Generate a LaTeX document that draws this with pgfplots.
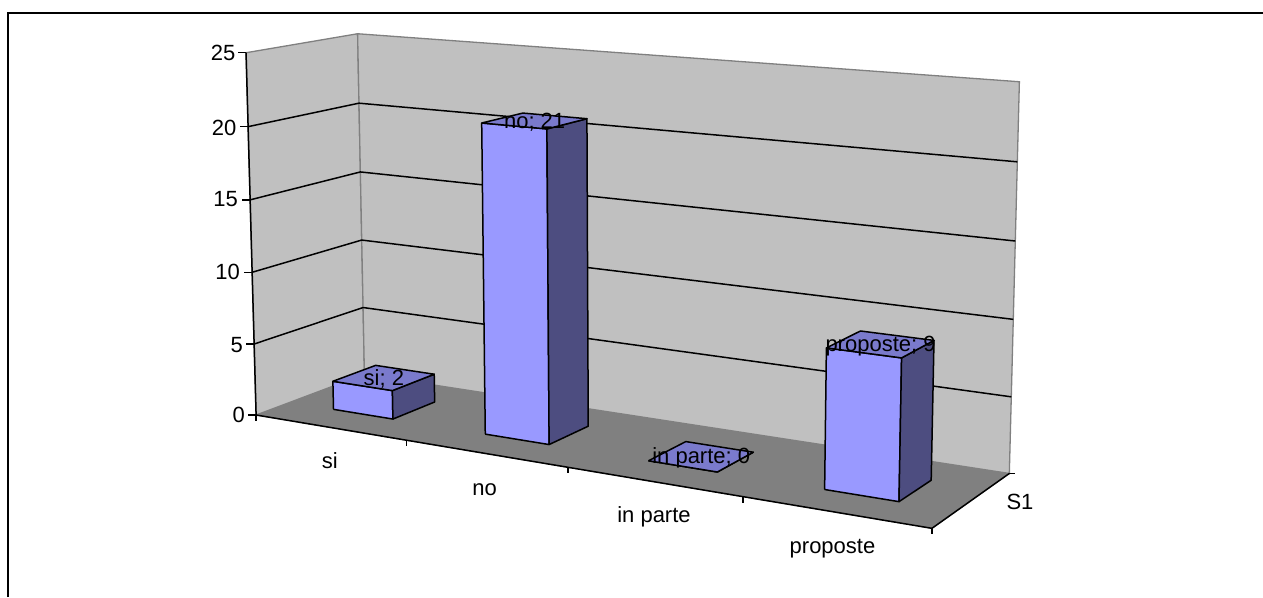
\documentclass[border=0pt]{standalone}
\usepackage{pgfplots}
\pgfplotsset{compat=1.18}
\usepackage{fontspec}
\setmainfont{Liberation Sans}
\definecolor{wall}{HTML}{C0C0C0}
\definecolor{floorgray}{HTML}{808080}
\definecolor{barfront}{HTML}{9999FF}
\definecolor{barside}{HTML}{4D4D80}
\definecolor{bartop}{HTML}{7A7ACC}
\tikzset{lab/.style={inner sep=0pt,font=\fontsize{22}{25}\selectfont,text=black}}
% Perspective projection of the chart box: u runs along the categories,
% v runs from the front to the back, h is the value on the vertical axis.
\pgfplotsset{
  box/.style={
    table/row sep=\\,
    table/x expr={PX(\thisrow{u},\thisrow{v},\thisrow{h})},
    table/y expr={PY(\thisrow{u},\thisrow{v},\thisrow{h})},
  },
  boxtick/.style={
    table/row sep=\\,
    table/x expr={PX(\thisrow{u},\thisrow{v},\thisrow{h})+\thisrow{dx}},
    table/y expr={PY(\thisrow{u},\thisrow{v},\thisrow{h})+\thisrow{dy}},
  },
  edge/.style={draw=black,line width=1.5pt,line join=miter},
  bar face/.style={draw=black,line width=1.5pt,line join=round,fill=#1},
}
% One column: #1 and #2 its extent along the categories, #3 its value.
% The three visible faces are built from the value.
\newcommand{\column}[3]{%
  \addplot[box,bar face=barfront] table {u v h\\ #1 0.3 0\\ #2 0.3 0\\ #2 0.3 #3\\ #1 0.3 #3\\ #1 0.3 0\\};
  \addplot[box,bar face=barside] table {u v h\\ #2 0.3 0\\ #2 0.7 0\\ #2 0.7 #3\\ #2 0.3 #3\\ #2 0.3 0\\};
  \addplot[box,bar face=bartop] table {u v h\\ #1 0.3 #3\\ #2 0.3 #3\\ #2 0.7 #3\\ #1 0.7 #3\\ #1 0.3 #3\\};
}
% Data label centred on the top of a column: #1 centre, #2 value, #3 text.
\newcommand{\columnlabel}[3]{%
  \addplot[box,draw=none,mark=none,nodes near coords={#3},
    every node near coord/.style={lab,anchor=base,yshift=-7.5pt}]
    table {u v h\\ #1 0.5 #2\\};
}
\begin{document}
\begin{tikzpicture}
% The page is the whole chart area, whatever is drawn inside it
\path[use as bounding box] (0,0) rectangle (1263pt,597pt);
\begin{axis}[
  at={(0,0)},anchor=south west,
  scale only axis,
  width=1263pt,height=597pt,
  xmin=0,xmax=1263,ymin=0,ymax=597,
  y dir=reverse,
  axis lines=none,
  clip=false,
  declare function={
    PX(\u,\v,\h)=(543.5*\u+132*\v-16.2*\h/25+256.1)/(1-0.142*\u+0.065*\v-0.025*\h/25);
    PY(\u,\v,\h)=(38.3*\u-16.3*\v-363.6*\h/25+415)/(1-0.142*\u+0.065*\v-0.025*\h/25);
  },
  every axis plot/.append style={no markers},
]
% Outer chart frame
\addplot[gray,line width=1pt] coordinates {(8,12) (1263,12)};
\addplot[black,line width=1.8pt] coordinates {(8,597) (8,13) (1263,13)};
% Floor and the two walls
\addplot[box,draw=floorgray,line width=1pt,fill=floorgray] table {u v h\\ 0 0 0\\ 1 0 0\\ 1 1 0\\ 0 1 0\\ 0 0 0\\};
\addplot[box,draw=floorgray,line width=1.3pt,fill=wall] table {u v h\\ 0 0 0\\ 0 1 0\\ 0 1 25\\ 0 0 25\\ 0 0 0\\};
\addplot[box,draw=floorgray,line width=1.3pt,fill=wall] table {u v h\\ 0 1 0\\ 1 1 0\\ 1 1 25\\ 0 1 25\\ 0 1 0\\};
% Gridlines along the left and back walls
\addplot[box,edge] table {u v h\\ 0 0 5\\ 0 1 5\\ 1 1 5\\};
\addplot[box,edge] table {u v h\\ 0 0 10\\ 0 1 10\\ 1 1 10\\};
\addplot[box,edge] table {u v h\\ 0 0 15\\ 0 1 15\\ 1 1 15\\};
\addplot[box,edge] table {u v h\\ 0 0 20\\ 0 1 20\\ 1 1 20\\};
% Axis lines
\addplot[box,edge] table {u v h\\ 0 0 25\\ 0 0 0\\ 1 0 0\\ 1 1 0\\};
% Value axis ticks
\addplot[boxtick,edge] table {u v h dx dy\\ 0 0 0 0 0\\ 0 0 0 -8 0\\};
\addplot[boxtick,edge] table {u v h dx dy\\ 0 0 5 0 0\\ 0 0 5 -8 0\\};
\addplot[boxtick,edge] table {u v h dx dy\\ 0 0 10 0 0\\ 0 0 10 -8 0\\};
\addplot[boxtick,edge] table {u v h dx dy\\ 0 0 15 0 0\\ 0 0 15 -8 0\\};
\addplot[boxtick,edge] table {u v h dx dy\\ 0 0 20 0 0\\ 0 0 20 -8 0\\};
\addplot[boxtick,edge] table {u v h dx dy\\ 0 0 25 0 0\\ 0 0 25 -8 0\\};
% Category and series ticks
\addplot[boxtick,edge] table {u v h dx dy\\ 0 0 0 0 0\\ 0 0 0 0 6\\};
\addplot[boxtick,edge] table {u v h dx dy\\ 0.25 0 0 0 0\\ 0.25 0 0 0 6\\};
\addplot[boxtick,edge] table {u v h dx dy\\ 0.5 0 0 0 0\\ 0.5 0 0 0 6\\};
\addplot[boxtick,edge] table {u v h dx dy\\ 0.75 0 0 0 0\\ 0.75 0 0 0 6\\};
\addplot[boxtick,edge] table {u v h dx dy\\ 1 0 0 0 0\\ 1 0 0 0 6\\};
\addplot[boxtick,edge] table {u v h dx dy\\ 1 1 0 0 0\\ 1 1 0 6 0\\};
% Columns: si, no, in parte, proposte
\column{0.075}{0.175}{2}
\column{0.325}{0.425}{21}
\column{0.575}{0.675}{0}
\column{0.825}{0.925}{9}
% Data labels stay above all the columns
\columnlabel{0.125}{2}{si; 2}
\columnlabel{0.375}{21}{no; 21}
\columnlabel{0.625}{0}{in parte; 0}
\columnlabel{0.875}{9}{proposte; 9}
% Tick labels
\node[lab,anchor=base east] at (axis cs:235.5,60.7) {25};
\node[lab,anchor=base east] at (axis cs:236.5,135) {20};
\node[lab,anchor=base east] at (axis cs:238,206.7) {15};
\node[lab,anchor=base east] at (axis cs:240,279) {10};
\node[lab,anchor=base east] at (axis cs:243,352.3) {5};
\node[lab,anchor=base east] at (axis cs:245,422.7) {0};
\node[lab,anchor=base] at (axis cs:329.7,468.3) {si};
\node[lab,anchor=base] at (axis cs:484.7,495) {no};
\node[lab,anchor=base] at (axis cs:654,522.3) {in parte};
\node[lab,anchor=base] at (axis cs:832.5,553) {proposte};
\node[lab,anchor=base] at (axis cs:1020,509.3) {S1};
\end{axis}
\end{tikzpicture}
\end{document}
